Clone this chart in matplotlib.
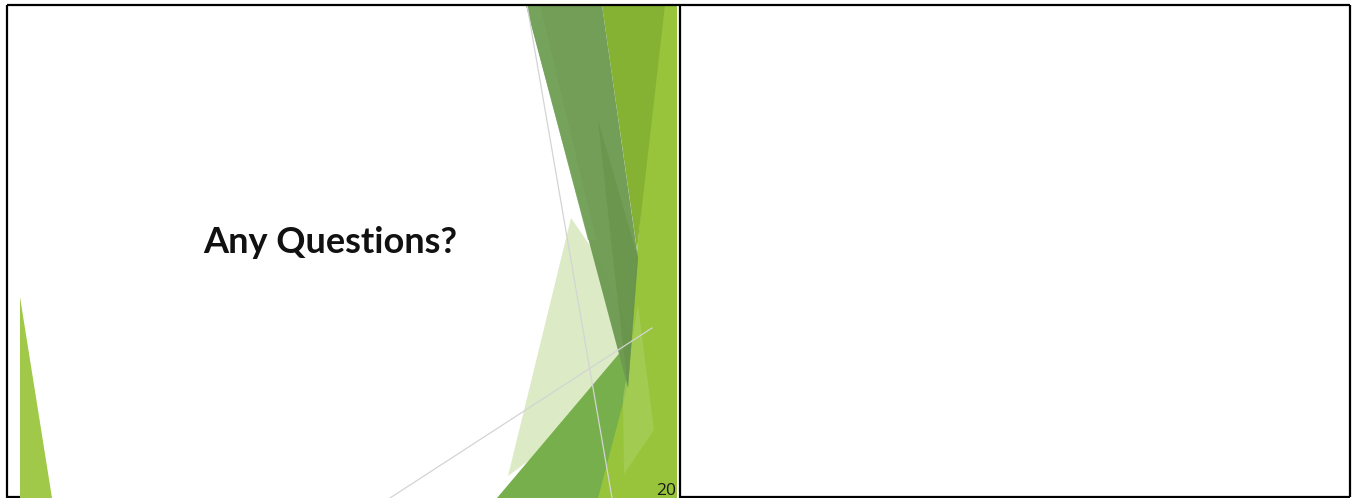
import matplotlib
matplotlib.use("Agg")
import matplotlib.pyplot as plt
from matplotlib.patches import Polygon

# slide shapes, in screenshot pixels (x right, y down)
left_wedge = [(20, 297), (20, 498), (52, 498)]
pale_wedge = [(571, 218), (600, 260), (634, 340), (590, 415), (508, 476)]
mid_green = [(497, 498), (634, 336), (618, 498)]
lime_band = [(660, 5), (677, 5), (677, 498), (598, 498), (626, 392), (637, 252)]
lime_stripe = [(638, 305), (654, 430), (624, 474), (623, 398)]
olive_band = [(602, 5), (665, 5), (637, 250)]
dark_band = [(526, 5), (602, 5), (638, 258), (628, 388)]
dark_edge = [(526, 5), (540, 5), (596, 240), (588, 240)]
dark_strip = [(598, 120), (638, 258), (628, 388), (612, 250)]
grey_lines = [[(527, 5), (612, 498)], [(390, 498), (652, 328)]]

title = "Any Questions?"
page_no = "20"

fig = plt.figure(figsize=(13.56, 4.98), dpi=100)
ax = fig.add_axes([0, 0, 1, 1])
ax.set_xlim(0, 1356)
ax.set_ylim(498, 0)
ax.axis("off")

def poly(pts, color, alpha=1.0, z=2):
    ax.add_patch(Polygon(pts, closed=True, facecolor=color, edgecolor="none",
                         alpha=alpha, zorder=z))

poly(left_wedge, "#A0C94A")
poly(pale_wedge, "#DCEBC6", z=2)
poly(mid_green, "#76AF4B", z=3)
poly(lime_band, "#98C43C", z=4)
poly(lime_stripe, "#AAD263", alpha=0.55, z=4)
poly(olive_band, "#86B233", z=5)
poly(dark_band, "#6E9B52", alpha=0.97, z=6)
poly(dark_edge, "#78A55E", alpha=0.8, z=6)
poly(dark_strip, "#5F8C3F", alpha=0.4, z=6)
for ln in grey_lines:
    xs, ys = zip(*ln)
    ax.plot(xs, ys, color="#d4d4d4", lw=0.9, zorder=7)

ax.text(330, 253, title, ha="center", va="baseline", fontsize=26,
        fontweight="bold", family=["Lato", "DejaVu Sans"], color="#111111", zorder=8)
ax.text(676, 495, page_no, ha="right", va="baseline", fontsize=12.5,
        family=["Open Sans", "DejaVu Sans"], color="#1a1a1a", zorder=8)

# table borders
k = dict(color="black", lw=1.6, zorder=9, solid_capstyle="butt")
ax.plot([7, 1350], [5, 5], **k)
ax.plot([7, 7], [5, 498], **k)
ax.plot([7, 20], [497, 497], **k)
ax.plot([679.5, 679.5], [5, 498], **k)
ax.plot([1350, 1350], [5, 497], **k)
ax.plot([679, 1350], [496.5, 496.5], **k)

fig.savefig("out.png", dpi=100)
